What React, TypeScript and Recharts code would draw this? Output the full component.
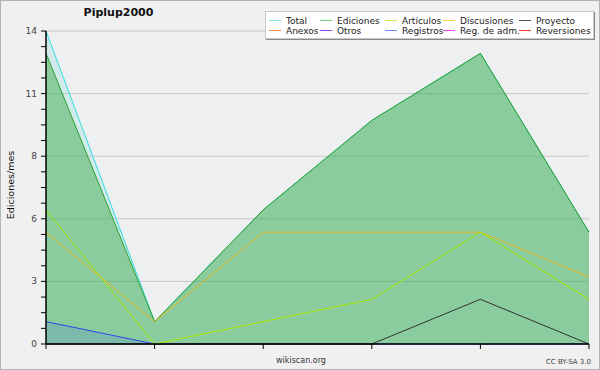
import { AreaChart, Area, XAxis, YAxis, CartesianGrid } from "recharts";

const MONTHS = ["m1", "m2", "m3", "m4", "m5", "m6"];
const TOTAL = [14, 1, 6, 10, 13, 5];
const EDICIONES = [13, 1, 6, 10, 13, 5];
const ARTICULOS = [6, 0, 1, 2, 5, 2];
const DISCUSIONES = [5, 1, 5, 5, 5, 3];
const PROYECTO = [0, 0, 0, 0, 2, 0];
const REGISTROS = [1, 0, 0, 0, 0, 0];

const Y_TICKS = [0, 0.7, 1.4, 2.1, 2.8, 3.5, 4.2, 4.9, 5.6, 6.3, 7, 7.7, 8.4, 9.1, 9.8, 10.5, 11.2, 11.9, 12.6, 13.3, 14];
const Y_LABELS = ["0", "3", "6", "8", "11", "14"];
const GRID_VALUES = [2.8, 5.6, 8.4, 11.2, 14];

const LEGEND = [
  [
    { name: "Total", color: "#88e4e0" },
    { name: "Ediciones", color: "#77cc77" },
    { name: "Artículos", color: "#c4ee44" },
    { name: "Discusiones", color: "#ffcc44" },
    { name: "Proyecto", color: "#555555" },
  ],
  [
    { name: "Anexos", color: "#ff8844" },
    { name: "Otros", color: "#8844ee" },
    { name: "Registros", color: "#7788ff" },
    { name: "Reg. de adm.", color: "#ee44ee" },
    { name: "Reversiones", color: "#ff3333" },
  ],
];
const LEGEND_COLS = [268, 319, 384, 442, 518];

const data = MONTHS.map((m, i) => ({
  m,
  total: TOTAL[i],
  ediciones: EDICIONES[i],
  articulos: ARTICULOS[i],
  discusiones: DISCUSIONES[i],
  proyecto: PROYECTO[i],
  registros: REGISTROS[i],
}));

const FONT = "'DejaVu Sans', sans-serif";

function YTick({ x, y, index }: any) {
  if (index % 4 !== 0) return <g />;
  return (
    <text x={x - 2} y={y} dy={3} textAnchor="end" fontSize={9} fill="#444" fontFamily={FONT}>
      {Y_LABELS[index / 4]}
    </text>
  );
}

export default function App() {
  return (
    <div
      style={{
        position: "absolute",
        left: 0,
        top: 0,
        width: 600,
        height: 370,
        boxSizing: "border-box",
        border: "1px solid #b4b4b4",
        background: "#f0f0f0",
        fontFamily: FONT,
      }}
    >
      <div style={{ position: "absolute", left: -1, top: -1 }}>
        <AreaChart width={600} height={370} data={data} margin={{ top: 31, right: 11, bottom: 21, left: 6 }}>
          <CartesianGrid vertical={false} horizontalValues={GRID_VALUES} stroke="#c8c8c8" fill="#eeeff1" />
          <XAxis
            dataKey="m"
            height={5}
            interval={0}
            tick={() => <g />}
            tickSize={5}
            tickLine={{ stroke: "#000" }}
            axisLine={{ stroke: "#000", strokeWidth: 1.5 }}
          />
          <YAxis
            width={40}
            domain={[0, 14]}
            ticks={Y_TICKS}
            interval={0}
            tick={<YTick />}
            tickSize={5}
            tickLine={{ stroke: "#000" }}
            axisLine={{ stroke: "#000", strokeWidth: 1.5 }}
          />
          <Area type="linear" dataKey="total" stroke="#33dddd" strokeWidth={1} fill="#30d8d0" fillOpacity={0.15} dot={false} activeDot={false} isAnimationActive={false} />
          <Area type="linear" dataKey="ediciones" stroke="#2ea02e" strokeWidth={1} fill="#3aab45" fillOpacity={0.47} dot={false} activeDot={false} isAnimationActive={false} />
          <Area type="linear" dataKey="registros" stroke="#3344ee" strokeWidth={1} fill="#3355ff" fillOpacity={0.15} dot={false} activeDot={false} isAnimationActive={false} />
          <Area type="linear" dataKey="proyecto" stroke="#333333" strokeWidth={1} fill="none" dot={false} activeDot={false} isAnimationActive={false} />
          <Area type="linear" dataKey="discusiones" stroke="#e8b820" strokeWidth={1} fill="none" dot={false} activeDot={false} isAnimationActive={false} />
          <Area type="linear" dataKey="articulos" stroke="#a8ec00" strokeWidth={1} fill="none" dot={false} activeDot={false} isAnimationActive={false} />
        </AreaChart>
      </div>

      <div style={{ position: "absolute", left: 0, top: 0, width: 600, height: 370, pointerEvents: "none" }}>
        <div style={{ position: "absolute", left: 60, width: 115, top: 5, textAlign: "center", fontSize: 11, fontWeight: "bold", color: "#111" }}>
          Piplup2000
        </div>
        <div
          style={{
            position: "absolute",
            left: 9,
            top: 184,
            transform: "translate(-50%, -50%) rotate(-90deg)",
            fontSize: 9.5,
            color: "#111",
            whiteSpace: "nowrap",
          }}
        >
          Ediciones/mes
        </div>
        <div style={{ position: "absolute", left: 250, width: 100, top: 355, textAlign: "center", fontSize: 8, color: "#333" }}>
          wikiscan.org
        </div>
        <div style={{ position: "absolute", right: 10, top: 357, fontSize: 7, color: "#444" }}>CC BY-SA 3.0</div>

        <div
          style={{
            position: "absolute",
            left: 264,
            top: 10,
            width: 329,
            height: 28,
            boxSizing: "border-box",
            background: "#fff",
            border: "1px solid #c8c8c8",
            boxShadow: "1px 1px 0 #888",
          }}
        />
        {LEGEND.map((row, r) =>
          row.map((item, c) => (
            <div
              key={item.name}
              style={{
                position: "absolute",
                left: LEGEND_COLS[c],
                top: 14 + r * 10,
                height: 11,
                display: "flex",
                alignItems: "center",
                fontSize: 9,
                color: "#222",
                whiteSpace: "nowrap",
              }}
            >
              <span style={{ display: "inline-block", width: 12, height: 1.5, background: item.color, marginRight: 5 }} />
              {item.name}
            </div>
          ))
        )}
      </div>
    </div>
  );
}
